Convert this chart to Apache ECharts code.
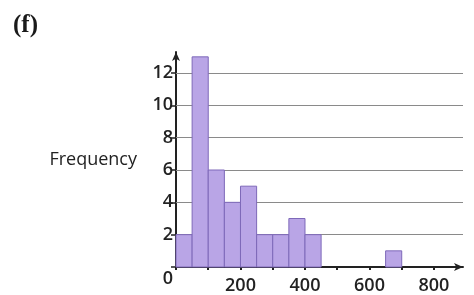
<!DOCTYPE html>
<html>
<head>
<meta charset="utf-8">
<script src="https://cdn.jsdelivr.net/npm/echarts@6/dist/echarts.min.js"></script>
<style>
  html, body { margin: 0; padding: 0; background: #fff; }
  #chart { width: 474px; height: 295px; }
</style>
</head>
<body>
<div id="chart"></div>
<script>
// histogram bins (width 50) and their frequencies
const binStart = [0, 50, 100, 150, 200, 250, 300, 350, 400, 650];
const binEnd = [50, 100, 150, 200, 250, 300, 350, 400, 450, 700];
const frequency = [2, 13, 6, 4, 5, 2, 2, 3, 2, 1];
const xTickLabels = [200, 400, 600, 800];
const yTickLabels = [2, 4, 6, 8, 10, 12];

const chart = echarts.init(document.getElementById("chart"));

const bars = binStart.map((s, i) => [s, binEnd[i], frequency[i]]);
const labelFont = { fontFamily: "Open Sans", fontWeight: 600, fontSize: 18, color: "#222" };

const option = {
  animation: false,
  title: {
    text: "(f)",
    left: 8,
    top: 8,
    textStyle: { fontFamily: "Liberation Serif", fontWeight: "bold", fontSize: 25, color: "#1a1a1a" },
  },
  grid: { left: 176, right: 11, top: 52, bottom: 28 },
  xAxis: {
    type: "value",
    min: 0,
    max: 890,
    interval: 100,
    axisLine: {
      show: true,
      lineStyle: { color: "#222", width: 2 },
      symbol: ["none", "arrow"],
      symbolSize: [6, 9],
    },
    axisTick: { show: true, length: 3, lineStyle: { color: "#222", width: 2 } },
    splitLine: { show: false },
    axisLabel: {
      ...labelFont,
      margin: 10,
      showMaxLabel: false,
      formatter: (v) => (xTickLabels.includes(v) ? String(v) : ""),
    },
  },
  yAxis: {
    type: "value",
    min: 0,
    max: 13.3,
    interval: 2,
    name: "Frequency",
    nameLocation: "middle",
    nameRotate: 0,
    nameGap: 39,
    nameTextStyle: { fontFamily: "Open Sans", fontSize: 18, color: "#222", align: "right", padding: [6, 0, 0, 0] },
    axisLine: {
      show: true,
      lineStyle: { color: "#222", width: 2 },
      symbol: ["none", "arrow"],
      symbolSize: [6, 9],
    },
    axisTick: { show: true, length: 5, lineStyle: { color: "#222", width: 1.5 } },
    splitLine: { show: false },
    axisLabel: {
      ...labelFont,
      margin: 3,
      showMaxLabel: false,
      formatter: (v) => (v === 0 ? "{z|0}" : yTickLabels.includes(v) ? String(v) : ""),
      rich: { z: { ...labelFont, padding: [24, 0, 0, 0] } },
    },
  },
  series: [
    {
      // horizontal grid lines, drawn behind the bars
      type: "line",
      data: [],
      z: 1,
      markLine: {
        silent: true,
        z: 1,
        symbol: "none",
        label: { show: false },
        lineStyle: { color: "#8a8a8a", width: 1, type: "solid" },
        data: yTickLabels.map((v) => ({ yAxis: v })),
      },
    },
    {
      type: "custom",
      data: bars,
      encode: { x: [0, 1], y: 2 },
      z: 5,
      renderItem: (params, api) => {
        const p0 = api.coord([api.value(0), api.value(2)]);
        const p1 = api.coord([api.value(1), 0]);
        return {
          type: "rect",
          shape: { x: p0[0], y: p0[1], width: p1[0] - p0[0], height: p1[1] - p0[1] },
          style: { fill: "#b9a5e6", stroke: "#7e69b9", lineWidth: 1 },
        };
      },
    },
  ],
};

option && chart.setOption(option);
</script>
</body>
</html>
